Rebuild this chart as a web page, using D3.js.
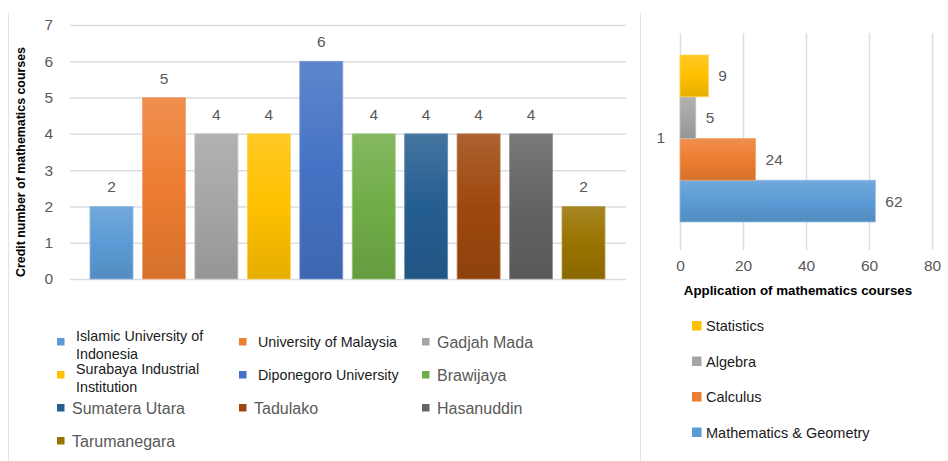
<!DOCTYPE html>
<html>
<head>
<meta charset="utf-8">
<script src="https://cdn.jsdelivr.net/npm/d3@7"></script>
<style>
body { margin: 0; background: #fff; }
text { font-family: "Liberation Sans", Arial, sans-serif; }
</style>
</head>
<body>
<div id="chart"></div>
<script>
// data
var universities = ["Islamic University of Indonesia", "University of Malaysia", "Gadjah Mada",
    "Surabaya Industrial Institution", "Diponegoro University", "Brawijaya",
    "Sumatera Utara", "Tadulako", "Hasanuddin", "Tarumanegara"];
var credits = [2, 5, 4, 4, 6, 4, 4, 4, 4, 2];
var creditTicks = [0, 1, 2, 3, 4, 5, 6, 7];

var courses = ["Mathematics & Geometry", "Calculus", "Algebra", "Statistics"];
var applications = [62, 24, 5, 9];
var appTicks = [0, 20, 40, 60, 80];
var appCategory = ["1"];

// colours
var uniColors = ["#5B9BD5", "#ED7D31", "#A5A5A5", "#FFC000", "#4472C4",
    "#70AD47", "#255E91", "#9E480E", "#636363", "#997300"];
var courseColors = ["#5B9BD5", "#ED7D31", "#A5A5A5", "#FFC000"];

var svgWidth = 948;
var svgHeight = 461;

var svg = d3.select("#chart")
    .append("svg")
    .attr("width", svgWidth)
    .attr("height", svgHeight);

var defs = svg.append("defs");

// excel style vertical gradient per colour
function gradientId(color) {
    var id = "g" + color.replace("#", "");
    if (defs.select("#" + id).empty()) {
        var g = defs.append("linearGradient")
            .attr("id", id)
            .attr("x1", 0).attr("y1", 0)
            .attr("x2", 0).attr("y2", 1);
        g.append("stop").attr("offset", "0%")
            .attr("stop-color", d3.interpolateRgb(color, "#ffffff")(0.14));
        g.append("stop").attr("offset", "50%")
            .attr("stop-color", color);
        g.append("stop").attr("offset", "100%")
            .attr("stop-color", d3.interpolateRgb(color, "#000000")(0.1));
    }
    return "url(#" + id + ")";
}

// panel borders
svg.append("line")
    .attr("x1", 8.5).attr("x2", 8.5)
    .attr("y1", 13).attr("y2", 461)
    .attr("stroke", "#e3e3e3");
svg.append("line")
    .attr("x1", 640.5).attr("x2", 640.5)
    .attr("y1", 13).attr("y2", 461)
    .attr("stroke", "#e3e3e3");

// ---------- left chart: credit numbers ----------
var left = { x0: 70, x1: 626, top: 25, bottom: 279 };

var xBand = d3.scaleBand()
    .domain(universities)
    .range([90, 605])
    .paddingInner(0.18);

var yCredit = d3.scaleLinear()
    .domain([0, 7])
    .range([left.bottom, left.top]);

var leftAxis = d3.axisLeft(yCredit)
    .tickValues(creditTicks)
    .tickFormat(d3.format("d"))
    .tickSize(-(left.x1 - left.x0))
    .tickPadding(17);

var yAxisG = svg.append("g")
    .attr("transform", `translate(${left.x0}, 0)`)
    .call(leftAxis);
yAxisG.select(".domain").remove();
yAxisG.selectAll("line")
    .attr("stroke", "#dadde2")
    .attr("stroke-width", 1.5);
yAxisG.selectAll("text")
    .attr("fill", "#595959")
    .attr("font-size", "15.5px");

svg.append("g")
    .selectAll("rect")
    .data(credits)
    .enter()
    .append("rect")
    .attr("x", (d, i) => xBand(universities[i]))
    .attr("y", d => yCredit(d))
    .attr("width", xBand.bandwidth())
    .attr("height", d => yCredit(0) - yCredit(d))
    .attr("fill", (d, i) => gradientId(uniColors[i]))
    .attr("stroke", (d, i) => d3.interpolateRgb(uniColors[i], "#ffffff")(0.3))
    .attr("stroke-width", 0.8);

svg.append("g")
    .selectAll("text")
    .data(credits)
    .enter()
    .append("text")
    .attr("x", (d, i) => xBand(universities[i]) + xBand.bandwidth() / 2)
    .attr("y", d => yCredit(d) - 14)
    .attr("text-anchor", "middle")
    .attr("fill", "#595959")
    .attr("font-size", "15.5px")
    .text(d => d);

svg.append("text")
    .attr("transform", "rotate(-90)")
    .attr("x", -162)
    .attr("y", 25)
    .attr("text-anchor", "middle")
    .attr("font-size", "12.4px")
    .attr("font-weight", "bold")
    .attr("fill", "#000")
    .text("Credit number of mathematics courses");

// legend left (3 columns)
var smallLegend = [0, 1, 3, 4];
var legCols = [57, 239, 422];
var legRows = [342, 375, 408, 441];

function wrap(textSel, width) {
    textSel.each(function() {
        var text = d3.select(this);
        var words = text.text().split(/\s+/);
        var x = text.attr("x");
        var y = text.attr("y");
        text.text(null);
        var line = [];
        var lineNo = 0;
        var tspan = text.append("tspan").attr("x", x).attr("y", y);
        words.forEach(function(w) {
            line.push(w);
            tspan.text(line.join(" "));
            if (tspan.node().getComputedTextLength() > width && line.length > 1) {
                line.pop();
                tspan.text(line.join(" "));
                line = [w];
                lineNo++;
                tspan = text.append("tspan").attr("x", x)
                    .attr("y", +y + lineNo * 18).text(w);
            }
        });
        if (lineNo > 0) {
            text.selectAll("tspan").attr("y", function(d, k) { return +y - 6 + k * 18; });
        }
    });
}

var legendLeft = svg.append("g")
    .selectAll("g")
    .data(universities)
    .enter()
    .append("g")
    .attr("transform", (d, i) => `translate(${legCols[i % 3]}, ${legRows[Math.floor(i / 3)]})`);

legendLeft.append("rect")
    .attr("x", 0)
    .attr("y", -4)
    .attr("width", 7.5)
    .attr("height", 7.5)
    .attr("fill", (d, i) => uniColors[i]);

legendLeft.append("text")
    .attr("x", (d, i) => smallLegend.indexOf(i) >= 0 ? 19 : 15)
    .attr("y", (d, i) => smallLegend.indexOf(i) >= 0 ? 5 : 6)
    .attr("font-size", (d, i) => smallLegend.indexOf(i) >= 0 ? "14.3px" : "16px")
    .attr("fill", (d, i) => smallLegend.indexOf(i) >= 0 ? "#1a1a1a" : "#595959")
    .text(d => d)
    .call(wrap, 145);

// ---------- right chart: applications ----------
var right = { x0: 680, x1: 932, top: 33, bottom: 250 };

var xApp = d3.scaleLinear()
    .domain([0, 80])
    .range([right.x0, right.x1]);

var yCat = d3.scaleBand()
    .domain(appCategory)
    .range([right.top - 3, right.bottom - 3])
    .paddingOuter(0.15);

var ySeries = d3.scaleBand()
    .domain(courses.slice().reverse())
    .range([yCat(appCategory[0]), yCat(appCategory[0]) + yCat.bandwidth()]);

var bottomAxis = d3.axisBottom(xApp)
    .tickValues(appTicks)
    .tickSize(-(right.bottom - right.top))
    .tickPadding(10);

var xAxisG = svg.append("g")
    .attr("transform", `translate(0, ${right.bottom})`)
    .call(bottomAxis);
xAxisG.select(".domain").remove();
xAxisG.selectAll("line")
    .attr("stroke", "#dadde2")
    .attr("stroke-width", 1.5);
xAxisG.selectAll("text")
    .attr("fill", "#595959")
    .attr("font-size", "15.5px");

var catAxis = d3.axisLeft(yCat).tickSize(0).tickPadding(15);
var catG = svg.append("g")
    .attr("transform", `translate(${right.x0}, 0)`)
    .call(catAxis);
catG.select(".domain").remove();
catG.selectAll("text")
    .attr("fill", "#595959")
    .attr("font-size", "15.5px");

svg.append("g")
    .selectAll("rect")
    .data(applications)
    .enter()
    .append("rect")
    .attr("x", xApp(0))
    .attr("y", (d, i) => ySeries(courses[i]))
    .attr("width", d => xApp(d) - xApp(0))
    .attr("height", ySeries.bandwidth())
    .attr("fill", (d, i) => gradientId(courseColors[i]))
    .attr("stroke", (d, i) => d3.interpolateRgb(courseColors[i], "#ffffff")(0.3))
    .attr("stroke-width", 0.8);

svg.append("g")
    .selectAll("text")
    .data(applications)
    .enter()
    .append("text")
    .attr("x", d => xApp(d) + 10)
    .attr("y", (d, i) => ySeries(courses[i]) + ySeries.bandwidth() / 2 + 5.5)
    .attr("fill", "#595959")
    .attr("font-size", "15.5px")
    .text(d => d);

svg.append("text")
    .attr("x", 798)
    .attr("y", 295)
    .attr("text-anchor", "middle")
    .attr("font-size", "13.3px")
    .attr("font-weight", "bold")
    .attr("fill", "#000")
    .text("Application of mathematics courses");

// legend right, top to bottom as in the chart
var legendRight = svg.append("g")
    .selectAll("g")
    .data(courses.slice().reverse())
    .enter()
    .append("g")
    .attr("transform", (d, i) => `translate(692, ${326 + i * 35.5})`);

legendRight.append("rect")
    .attr("x", 0)
    .attr("y", -5)
    .attr("width", 9.5)
    .attr("height", 9.5)
    .attr("fill", d => courseColors[courses.indexOf(d)]);

legendRight.append("text")
    .attr("x", 14)
    .attr("y", 5)
    .attr("font-size", "14.5px")
    .attr("fill", "#1a1a1a")
    .text(d => d);
</script>
</body>
</html>
